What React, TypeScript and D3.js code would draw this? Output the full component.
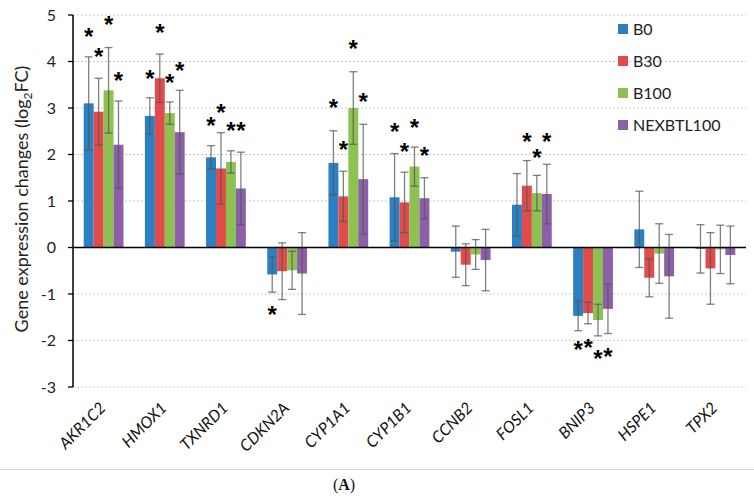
import React from "react";
import * as d3 from "d3";

const categories = ["AKR1C2", "HMOX1", "TXNRD1", "CDKN2A", "CYP1A1", "CYP1B1", "CCNB2", "FOSL1", "BNIP3", "HSPE1", "TPX2"];
const seriesNames = ["B0", "B30", "B100", "NEXBTL100"];
const seriesColors = ["#2b80c4", "#e04b4b", "#8dc152", "#8c5fa8"];

const B0 = [3.10, 2.83, 1.94, -0.58, 1.82, 1.08, -0.09, 0.92, -1.47, 0.39, -0.03];
const B0err = [1.00, 0.39, 0.25, 0.38, 0.69, 0.94, 0.55, 0.67, 0.32, 0.82, 0.52];
const B30 = [2.92, 3.64, 1.70, -0.51, 1.10, 0.97, -0.37, 1.33, -1.41, -0.65, -0.45];
const B30err = [0.72, 0.52, 0.77, 0.61, 0.54, 0.65, 0.45, 0.54, 0.23, 0.41, 0.77];
const B100 = [3.38, 2.89, 1.84, -0.49, 3.00, 1.74, -0.15, 1.17, -1.56, -0.13, -0.04];
const B100err = [0.92, 0.24, 0.24, 0.41, 0.78, 0.42, 0.32, 0.38, 0.34, 0.64, 0.52];
const NEX = [2.21, 2.48, 1.27, -0.56, 1.47, 1.06, -0.27, 1.15, -1.32, -0.62, -0.16];
const NEXerr = [0.94, 0.90, 0.78, 0.88, 1.18, 0.44, 0.66, 0.64, 0.53, 0.90, 0.62];

const seriesValues = [B0, B30, B100, NEX];
const seriesErrors = [B0err, B30err, B100err, NEXerr];

const yTicks = [-3, -2, -1, 0, 1, 2, 3, 4, 5];

// significance asterisks: [category, series, position in log2FC units]
const starCats = ["AKR1C2", "AKR1C2", "AKR1C2", "AKR1C2", "HMOX1", "HMOX1", "HMOX1", "HMOX1", "TXNRD1", "TXNRD1", "TXNRD1", "TXNRD1", "CDKN2A", "CYP1A1", "CYP1A1", "CYP1A1", "CYP1A1", "CYP1B1", "CYP1B1", "CYP1B1", "CYP1B1", "FOSL1", "FOSL1", "FOSL1", "BNIP3", "BNIP3", "BNIP3", "BNIP3"];
const starSeries = ["B0", "B30", "B100", "NEXBTL100", "B0", "B30", "B100", "NEXBTL100", "B0", "B30", "B100", "NEXBTL100", "B0", "B0", "B30", "B100", "NEXBTL100", "B0", "B30", "B100", "NEXBTL100", "B30", "B100", "NEXBTL100", "B0", "B30", "B100", "NEXBTL100"];
const starValues = [4.63, 4.20, 4.89, 3.69, 3.73, 4.72, 3.64, 3.90, 2.71, 2.99, 2.61, 2.61, -1.34, 3.10, 2.20, 4.37, 3.23, 2.59, 2.16, 2.67, 2.07, 2.37, 2.03, 2.37, -2.09, -2.05, -2.28, -2.24];

const W = 754;
const H = 498;
const left = 73;
const right = 746;
const top = 15;
const bottom = 387;
const font = "Lato, 'Open Sans', sans-serif";

export default function App() {
  const x0 = d3.scaleBand<string>().domain(categories).range([left, right]).paddingInner(0.35).paddingOuter(0.175);
  const x1 = d3.scaleBand<string>().domain(seriesNames).range([0, x0.bandwidth()]);
  const y = d3.scaleLinear().domain([-3, 5]).range([bottom, top]);
  const bw = x1.bandwidth();
  const capHalf = 4;

  return (
    <div style={{ position: "absolute", left: 0, top: 0 }}>
      <svg width={W} height={H} style={{ display: "block", background: "#fff" }}>
        {/* gridlines */}
        {yTicks.filter((t) => t !== 0).map((t) => (
          <line key={"g" + t} x1={left} x2={right} y1={y(t)} y2={y(t)} stroke="#c8c8c8" strokeWidth={1} strokeDasharray="2,2" />
        ))}
        {/* bars */}
        {seriesNames.map((s, si) =>
          categories.map((c, ci) => {
            const v = seriesValues[si][ci];
            const bx = (x0(c) as number) + (x1(s) as number);
            return (
              <rect key={s + c} x={bx} width={bw} y={Math.min(y(v), y(0))} height={Math.abs(y(v) - y(0))} fill={seriesColors[si]} />
            );
          })
        )}
        {/* error bars */}
        {seriesNames.map((s, si) =>
          categories.map((c, ci) => {
            const v = seriesValues[si][ci];
            const e = seriesErrors[si][ci];
            const cx = (x0(c) as number) + (x1(s) as number) + bw / 2;
            const yHi = y(v + e);
            const yLo = y(v - e);
            return (
              <g key={"e" + s + c} stroke="#555" strokeOpacity={0.75} strokeWidth={1.3}>
                <line x1={cx} x2={cx} y1={yHi} y2={yLo} />
                <line x1={cx - capHalf} x2={cx + capHalf} y1={yHi} y2={yHi} />
                <line x1={cx - capHalf} x2={cx + capHalf} y1={yLo} y2={yLo} />
              </g>
            );
          })
        )}
        {/* zero line */}
        <line x1={left} x2={right} y1={y(0)} y2={y(0)} stroke="#000" strokeWidth={1.6} />
        {/* y axis */}
        <line x1={left} x2={left} y1={y(5)} y2={y(-3)} stroke="#000" strokeWidth={1.5} />
        {yTicks.map((t) => (
          <g key={"t" + t}>
            <line x1={left - 5} x2={left} y1={y(t)} y2={y(t)} stroke="#000" strokeWidth={1.3} />
            <text x={left - 17} y={y(t)} dy="0.36em" textAnchor="end" fontFamily={font} fontSize={16} fill="#222">
              {t}
            </text>
          </g>
        ))}
        {/* y title */}
        <text transform={`translate(28,${(top + bottom) / 2 - 2}) rotate(-90)`} textAnchor="middle" fontFamily={font} fontSize={18} fill="#222">
          Gene expression changes (log<tspan fontSize={12} dy="4">2</tspan><tspan dy="-4">FC)</tspan>
        </text>
        {/* asterisks */}
        {starValues.map((v, i) => {
          const cx = (x0(starCats[i]) as number) + (x1(starSeries[i]) as number) + bw / 2;
          return (
            <text key={"s" + i} x={cx} y={y(v) + 13} textAnchor="middle" fontFamily="'Liberation Sans', Arial, sans-serif" fontWeight="bold" fontSize={24} fill="#000">
              *
            </text>
          );
        })}
        {/* category labels */}
        {categories.map((c) => {
          const cx = (x0(c) as number) + x0.bandwidth() / 2;
          return (
            <text key={"l" + c} transform={`translate(${cx + 3},${409}) rotate(-45)`} textAnchor="end" fontFamily={font} fontStyle="italic" fontSize={16} fill="#111">
              {c}
            </text>
          );
        })}
        {/* legend */}
        {seriesNames.map((s, si) => (
          <g key={"lg" + s} transform={`translate(618,${29 + si * 32})`}>
            <rect x={0} y={-5} width={10} height={10} fill={seriesColors[si]} />
            <text x={15} y={0} dy="0.36em" fontFamily={font} fontSize={16} fill="#222">
              {s}
            </text>
          </g>
        ))}
        {/* separator and caption */}
        <line x1={0} x2={W} y1={469.5} y2={469.5} stroke="#d6d6d6" strokeWidth={1.2} />
        <text x={344} y={490} textAnchor="middle" fontFamily="'Liberation Serif', 'DejaVu Serif', serif" fontSize={16} fill="#111">
          (<tspan fontWeight="bold">A</tspan>)
        </text>
      </svg>
    </div>
  );
}
